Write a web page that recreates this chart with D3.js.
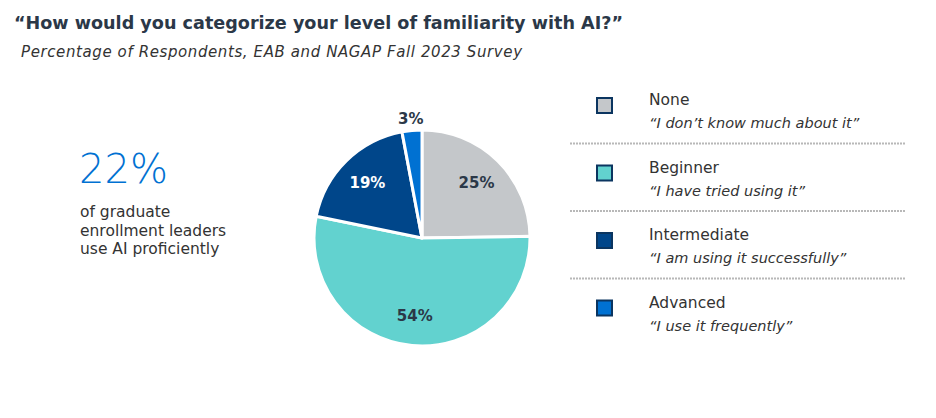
<!DOCTYPE html>
<html>
<head>
<meta charset="utf-8">
<script src="https://cdn.jsdelivr.net/npm/d3@7"></script>
<style>
  body { margin: 0; background: #fff; }
  text { font-family: "DejaVu Sans", Verdana, sans-serif; }
</style>
</head>
<body>
<svg id="chart"></svg>
<script>
// Survey data
const categories = ["None", "Beginner", "Intermediate", "Advanced"];
const quotes = ["\u201CI don\u2019t know much about it\u201D", "\u201CI have tried using it\u201D",
  "\u201CI am using it successfully\u201D", "\u201CI use it frequently\u201D"];
const shares = [25, 54, 19, 3];
const colors = ["#c4c7ca", "#62d2cf", "#00468a", "#0071d2"];
const labelColors = ["#2b3848", "#2b3848", "#ffffff", "#2b3848"];

const width = 936, height = 418;
const svg = d3.select("#chart").attr("width", width).attr("height", height);

// Title block
svg.append("text")
  .attr("x", 14).attr("y", 29)
  .attr("font-size", 17.6).attr("font-weight", "bold").attr("fill", "#2b3848")
  .text("\u201CHow would you categorize your level of familiarity with AI?\u201D");

svg.append("text")
  .attr("x", 21).attr("y", 57)
  .attr("font-size", 15).attr("letter-spacing", 0.6)
  .attr("font-style", "italic").attr("fill", "#333")
  .text("Percentage of Respondents, EAB and NAGAP Fall 2023 Survey");

// Callout on the left
svg.append("text")
  .attr("x", 79).attr("y", 183)
  .attr("font-size", 40).attr("font-weight", 200).attr("fill", "#0071d2")
  .attr("font-family", "'Liberation Sans', Arial, sans-serif")
  .text("22%");

const calloutLines = ["of graduate", "enrollment leaders", "use AI proficiently"];
svg.append("text")
  .attr("fill", "#333").attr("font-size", 15.5)
  .selectAll("tspan")
  .data(calloutLines)
  .join("tspan")
  .attr("x", 80)
  .attr("y", (d, i) => 217 + i * 18.5)
  .text(d => d);

// Pie
const cx = 422, cy = 238, r = 108;
const pie = d3.pie().sort(null).value(d => d);
const arcs = pie(shares);
const arc = d3.arc().innerRadius(0).outerRadius(r);

const gPie = svg.append("g").attr("transform", `translate(${cx},${cy})`);

gPie.selectAll("path")
  .data(arcs)
  .join("path")
  .attr("d", arc)
  .attr("fill", (d, i) => colors[i])
  .attr("stroke", "#fff")
  .attr("stroke-width", 3)
  .attr("stroke-linejoin", "round");

// label positions: inside slices, small slice outside
const labelArc = d3.arc().innerRadius(r * 0.72).outerRadius(r * 0.72);
const outerArc = d3.arc().innerRadius(r + 12).outerRadius(r + 12);

gPie.selectAll("text")
  .data(arcs)
  .join("text")
  .attr("transform", (d, i) => {
    const p = (d.endAngle - d.startAngle) < 0.4 ? outerArc.centroid(d) : labelArc.centroid(d);
    return `translate(${p})`;
  })
  .attr("text-anchor", "middle")
  .attr("dy", "0.35em")
  .attr("font-size", 15)
  .attr("font-weight", "bold")
  .attr("fill", (d, i) => labelColors[i])
  .text(d => d.data + "%");

// Legend
const legendY = d3.scaleBand().domain(categories).range([80, 350]);

const legend = svg.append("g");
const rows = legend.selectAll("g")
  .data(categories)
  .join("g")
  .attr("transform", d => `translate(0,${legendY(d)})`);

rows.append("rect")
  .attr("x", 597).attr("y", 18)
  .attr("width", 15).attr("height", 15)
  .attr("fill", (d, i) => colors[i])
  .attr("stroke", "#0b3560").attr("stroke-width", 2);

rows.append("text")
  .attr("x", 649).attr("y", 25)
  .attr("font-size", 15.5).attr("fill", "#333")
  .text(d => d);

rows.append("text")
  .attr("x", 649).attr("y", 48)
  .attr("font-size", 14.5).attr("font-style", "italic").attr("fill", "#333")
  .text((d, i) => quotes[i]);

// dotted separators between legend rows
legend.selectAll("line")
  .data(categories.slice(1))
  .join("line")
  .attr("x1", 570).attr("x2", 905)
  .attr("y1", d => legendY(d) - 4).attr("y2", d => legendY(d) - 4)
  .attr("stroke", "#b8b8b8").attr("stroke-width", 2)
  .attr("stroke-dasharray", "2,1");
</script>
</body>
</html>
